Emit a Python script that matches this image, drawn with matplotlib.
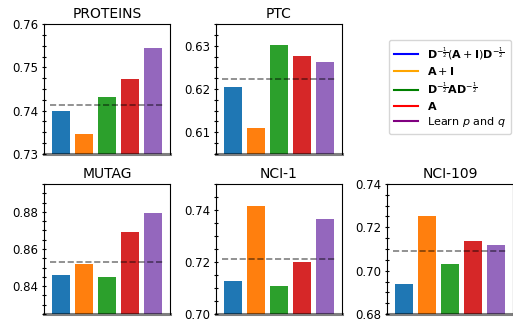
import matplotlib
matplotlib.use('Agg')
import matplotlib.pyplot as plt
from matplotlib.ticker import AutoMinorLocator, MultipleLocator
from matplotlib.lines import Line2D

# datasets and results (one bar per normalisation)
datasets = ['PROTEINS', 'PTC', 'MUTAG', 'NCI-1', 'NCI-109']
proteins = [0.7399, 0.7346, 0.7432, 0.7473, 0.7545]
ptc = [0.6204, 0.6109, 0.6302, 0.6276, 0.6262]
mutag = [0.8461, 0.8521, 0.8450, 0.8690, 0.8793]
nci1 = [0.7128, 0.7414, 0.7108, 0.7201, 0.7364]
nci109 = [0.6938, 0.7252, 0.7031, 0.7137, 0.7118]
values = [proteins, ptc, mutag, nci1, nci109]
# dashed reference line
baselines = [0.7413, 0.6222, 0.8530, 0.7213, 0.7089]
ylims = [(0.73, 0.76), (0.605, 0.635), (0.825, 0.895), (0.70, 0.75), (0.68, 0.74)]
steps = [0.01, 0.01, 0.02, 0.02, 0.02]

labels = [r'$\mathbf{D}^{-\frac{1}{2}}(\mathbf{A}+\mathbf{I})\mathbf{D}^{-\frac{1}{2}}$',
          r'$\mathbf{A}+\mathbf{I}$',
          r'$\mathbf{D}^{-\frac{1}{2}}\mathbf{A}\mathbf{D}^{-\frac{1}{2}}$',
          r'$\mathbf{A}$',
          r'Learn $p$ and $q$']
legend_colors = ['blue', 'orange', 'green', 'red', 'purple']
bar_colors = ['C0', 'C1', 'C2', 'C3', 'C4']

W, H = 513, 320
fig = plt.figure(figsize=(W / 100, H / 100), dpi=100)

# axes boxes in pixels: left, top
boxes = [(44, 24), (216, 24), (44, 184), (216, 184), (387, 184)]
aw, ah = 126, 130

for i, name in enumerate(datasets):
    left, top = boxes[i]
    ax = fig.add_axes([left / W, 1 - (top + ah) / H, aw / W, ah / H])
    x = range(len(values[i]))
    ax.bar(x, values[i], width=0.8, color=bar_colors)
    ax.plot([-0.5, 4.5], [baselines[i]] * 2, '--', color='k', alpha=0.5, lw=1.2)
    ax.set_xlim(-0.75, 4.75)
    ax.set_ylim(*ylims[i])
    ax.yaxis.set_major_locator(MultipleLocator(steps[i]))
    ax.yaxis.set_minor_locator(AutoMinorLocator(4))
    ax.set_xticks([])
    ax.tick_params(axis='y', which='both', direction='inout', length=2.5, width=0.8,
                   labelsize=8.5, pad=3)
    ax.spines['bottom'].set_color((0, 0, 0, 0.5))
    ax.spines['bottom'].set_linewidth(2.2)
    ax.spines['bottom'].set_zorder(3)
    ax.set_title(name, fontsize=10, pad=4)

handles = [Line2D([0], [0], color=c, lw=1.5) for c in legend_colors]
fig.legend(handles, labels, loc='center', bbox_to_anchor=(450 / W, 1 - 87 / H),
           fontsize=8, handlelength=2.2, labelspacing=0.3, borderpad=0.45,
           handletextpad=0.8)

fig.savefig('out.png', dpi=100)
